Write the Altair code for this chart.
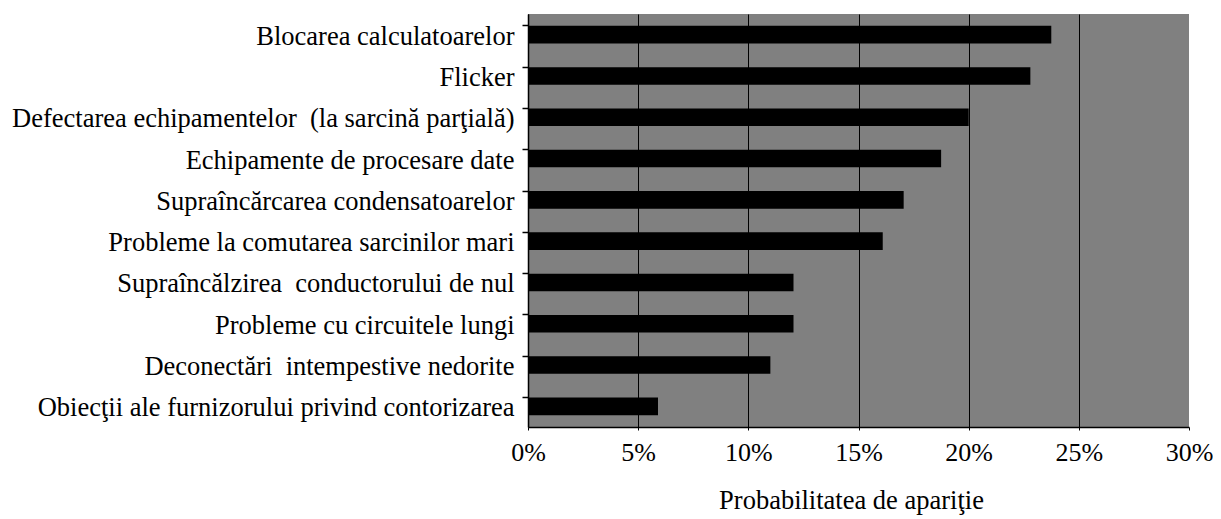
import altair as alt
import pandas as pd

categories = [
    "Blocarea calculatoarelor",
    "Flicker",
    "Defectarea echipamentelor \u00a0(la sarcină parţială)",
    "Echipamente de procesare date",
    "Supraîncărcarea condensatoarelor",
    "Probleme la comutarea sarcinilor mari",
    "Supraîncălzirea \u00a0conductorului de nul",
    "Probleme cu circuitele lungi",
    "Deconectări \u00a0intempestive nedorite",
    "Obiecţii ale furnizorului privind contorizarea",
]
values = [0.2375, 0.228, 0.200, 0.1875, 0.1705, 0.161, 0.1205, 0.1205, 0.110, 0.059]
x_ticks = [0, 0.05, 0.10, 0.15, 0.20, 0.25, 0.30]
x_title = "Probabilitatea de apariţie"

FONT = "Liberation Serif"

df = pd.DataFrame({"cat": categories, "p": values})

x_scale = alt.Scale(domain=[0, 0.3], nice=False, zero=True)
y_scale = alt.Scale(domain=categories, paddingInner=0.575, paddingOuter=0.2875)

x_axis = alt.Axis(
    values=x_ticks,
    format=".0%",
    title=x_title,
    grid=True,
    gridColor="black",
    gridWidth=1,
    gridOpacity=alt.condition("datum.value < 0.29", alt.value(1), alt.value(0)),
    domainColor="black",
    domainWidth=1.5,
    tickColor="black",
    tickSize=3,
    labelFont=FONT,
    labelFontSize=26,
    labelColor="black",
    labelPadding=9,
    labelFlush=False,
    labelOverlap=False,
    titleFont=FONT,
    titleFontSize=26.5,
    titleFontWeight="normal",
    titleColor="black",
    titleX=323,
    titleY=81,
    titleBaseline="alphabetic",
    titleAlign="center",
)

x_enc = alt.X("p:Q", scale=x_scale, axis=x_axis)

bars = alt.Chart(df).mark_bar(color="black").encode(
    x=x_enc,
    y=alt.Y(
        "cat:N",
        sort=categories,
        scale=y_scale,
        axis=alt.Axis(
            title=None,
            orient="left",
            ticks=False,
            labelFont=FONT,
            labelFontSize=26.5,
            labelColor="black",
            labelLimit=800,
            labelPadding=14,
            labelOffset=2,
            domainColor="black",
            domainWidth=1.5,
        ),
    ),
)

tick_layer = alt.Chart(df).mark_bar(opacity=0).encode(
    x=x_enc,
    y=alt.Y(
        "cat:N",
        sort=categories,
        scale=y_scale,
        axis=alt.Axis(
            title=None,
            orient="left",
            labels=False,
            domain=False,
            ticks=True,
            tickColor="black",
            tickSize=6,
            tickWidth=1.5,
            bandPosition=0,
        ),
    ),
)

chart = (
    alt.layer(bars, tick_layer)
    .resolve_axis(y="independent")
    .properties(
        width=661,
        height=413,
        autosize="none",
        padding={"left": 520, "top": 6, "right": 24, "bottom": 92},
        background="white",
    )
    .configure(font=FONT)
    .configure_view(fill="#808080", stroke=None)
)

chart.save("out.html", embed_options={"renderer": "svg", "actions": False})
